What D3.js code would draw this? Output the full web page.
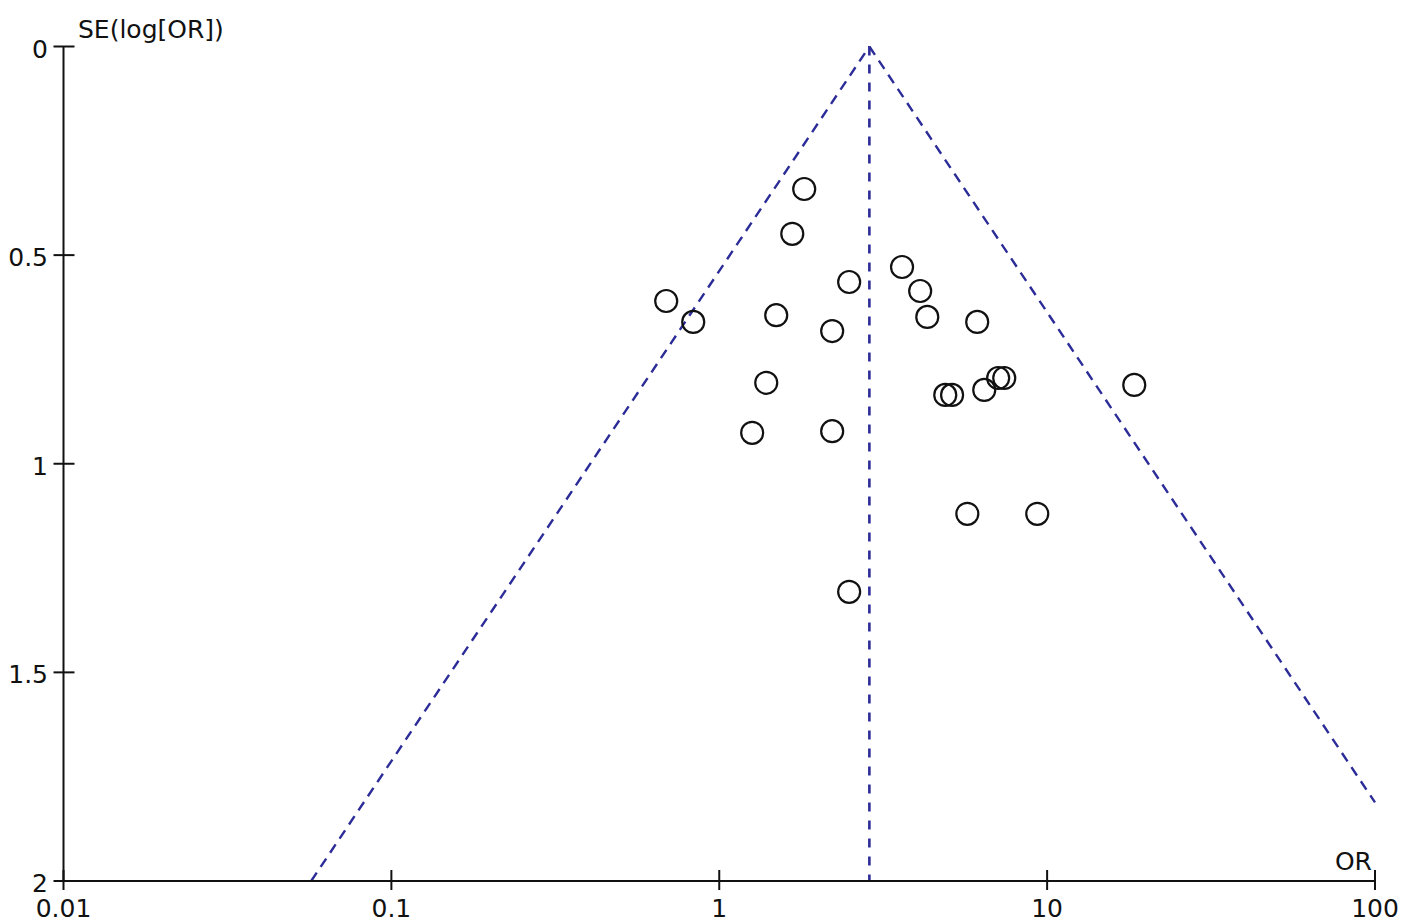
<!DOCTYPE html>
<html>
<head>
<meta charset="utf-8">
<script src="https://cdn.jsdelivr.net/npm/d3@7"></script>
<style>
  html, body { margin: 0; padding: 0; background: #fff; }
  svg { display: block; }
  text { font-family: "DejaVu Sans", "Liberation Sans", Arial, sans-serif; fill: #111; }
</style>
</head>
<body>
<svg id="chart" width="1418" height="924"></svg>
<script>
// ---- Data ----
const studyOR = [1.816, 1.670, 3.61, 2.49, 4.10, 4.31, 0.689, 0.833, 1.492, 2.21, 6.12, 1.391,
                 4.89, 5.13, 6.43, 7.09, 7.40, 18.44, 1.260, 2.21, 5.71, 9.33, 2.49];
const studySE = [0.3415, 0.449, 0.5285, 0.5644, 0.586, 0.648, 0.610, 0.660, 0.644, 0.682, 0.660, 0.806,
                 0.835, 0.835, 0.823, 0.7945, 0.7945, 0.811, 0.926, 0.922, 1.120, 1.120, 1.307];
const pooledOR = 2.87;
const xTickValues = [0.01, 0.1, 1, 10, 100];
const xTickLabels = ["0.01", "0.1", "1", "10", "100"];
const yTickValues = [0, 0.5, 1, 1.5, 2];
const yTickLabels = ["0", "0.5", "1", "1.5", "2"];
const xAxisTitle = "OR";
const yAxisTitle = "SE(log[OR])";

// ---- Layout ----
const svg = d3.select("#chart");
const x = d3.scaleLog().domain([0.01, 100]).range([63.5, 1375]);
const y = d3.scaleLinear().domain([0, 2]).range([46.5, 881]);

const lineColor = "#2c2c98";
const fontSize = 25;

// Funnel lines (pseudo 95% CI)
const z = 1.96;
const lnP = Math.log(pooledOR);
const seMaxRight = Math.min(2, (Math.log(100) - lnP) / z);
const seMaxLeft = Math.min(2, (lnP - Math.log(0.01)) / z);
const funnel = svg.append("g");
const lineGen = d3.line().x(d => x(d[0])).y(d => y(d[1]));
funnel.append("path")
  .attr("d", lineGen([[Math.exp(lnP - z * seMaxLeft), seMaxLeft], [pooledOR, 0]]))
  .attr("fill", "none").attr("stroke", lineColor).attr("stroke-width", 2.4)
  .attr("stroke-dasharray", "10,7");
funnel.append("path")
  .attr("d", lineGen([[pooledOR, 0], [Math.exp(lnP + z * seMaxRight), seMaxRight]]))
  .attr("fill", "none").attr("stroke", lineColor).attr("stroke-width", 2.4)
  .attr("stroke-dasharray", "10,7");
funnel.append("path")
  .attr("d", lineGen([[pooledOR, 0], [pooledOR, 2]]))
  .attr("fill", "none").attr("stroke", lineColor).attr("stroke-width", 2.6)
  .attr("stroke-dasharray", "9,9");

// Axes
const axes = svg.append("g").attr("stroke", "#111").attr("stroke-width", 2);
axes.append("line").attr("x1", x(0.01)).attr("x2", x(0.01)).attr("y1", y(0)).attr("y2", y(2));
axes.append("line").attr("x1", x(0.01)).attr("x2", x(100)).attr("y1", y(2)).attr("y2", y(2));

// y ticks
yTickValues.forEach((v, i) => {
  axes.append("line").attr("x1", x(0.01) - 10).attr("x2", x(0.01) + 11)
    .attr("y1", y(v)).attr("y2", y(v));
  svg.append("text").attr("x", 48).attr("y", y(v) + 11)
    .attr("text-anchor", "end").attr("font-size", fontSize).text(yTickLabels[i]);
});
// x ticks
xTickValues.forEach((v, i) => {
  axes.append("line").attr("x1", x(v)).attr("x2", x(v))
    .attr("y1", y(2) - 11).attr("y2", y(2) + 9);
  svg.append("text").attr("x", x(v)).attr("y", 917)
    .attr("text-anchor", "middle").attr("font-size", fontSize).text(xTickLabels[i]);
});

// Axis titles
svg.append("text").attr("x", 78).attr("y", 38).attr("font-size", fontSize).text(yAxisTitle);
svg.append("text").attr("x", 1372).attr("y", 870).attr("text-anchor", "end")
  .attr("font-size", fontSize).text(xAxisTitle);

// Points
const pts = studyOR.map((o, i) => ({ or: o, se: studySE[i] }));
svg.append("g").selectAll("circle").data(pts).join("circle")
  .attr("cx", d => x(d.or)).attr("cy", d => y(d.se)).attr("r", 11)
  .attr("fill", "none").attr("stroke", "#111").attr("stroke-width", 2.2);
</script>
</body>
</html>
